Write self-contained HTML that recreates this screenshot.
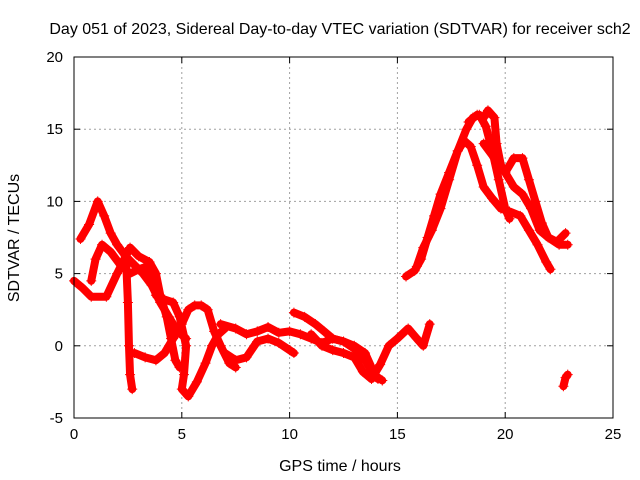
<!DOCTYPE html>
<html><head><meta charset="utf-8"><style>
html,body{margin:0;padding:0;background:#fff}
svg{display:block;font-family:"Liberation Sans",sans-serif}
</style></head><body>
<svg id="chart" width="640" height="480">
<text x="340" y="34" text-anchor="middle" font-size="16">Day 051 of 2023, Sidereal Day-to-day VTEC variation (SDTVAR) for receiver sch2</text>
<text x="340" y="471" text-anchor="middle" font-size="16">GPS time / hours</text>
<text transform="translate(19,238) rotate(-90)" text-anchor="middle" font-size="16">SDTVAR / TECUs</text>
<g id="grid"></g>
<g id="series"></g>
<rect x="74" y="57" width="539" height="361" fill="none" stroke="#000" stroke-width="1"/>
<g id="ticks"></g>
</svg>
<script>
const xTicks=[0,5,10,15,20,25];
const yTicks=[-5,0,5,10,15,20];
const track1=[[0.3,7.4],[0.7,8.4],[1.1,10.0],[1.4,9.0],[1.7,7.8],[2.0,7.0],[2.4,6.2],[2.8,5.6],[3.2,5.0],[3.6,4.2],[4.0,3.0],[4.4,2.0],[4.8,1.0],[5.2,0.5]];
const track2=[[0,4.5],[0.4,4.0],[0.8,3.4],[1.5,3.4],[2.0,5.0],[2.6,6.8],[3.0,6.2],[3.5,5.8],[3.8,5.0],[4.0,3.5],[4.3,2.0],[4.5,0.5],[4.7,-1.0],[4.9,-1.5]];
const track3=[[0.8,4.5],[1.0,6.0],[1.3,7.0],[1.7,6.5],[2.2,5.5],[2.6,5.0],[3.0,5.3],[3.4,5.5],[3.6,5.0],[3.8,3.5]];
const track4=[[2.8,-0.5],[3.3,-0.8],[3.8,-1.0],[4.2,-0.5],[4.6,0.5],[5.0,1.5],[5.3,2.5],[5.6,2.8],[5.9,2.8],[6.2,2.5],[6.5,1.0],[6.8,0.0],[7.2,-1.2],[7.5,-1.5]];
const track5=[[4.2,3.2],[4.6,3.0],[4.9,2.0],[5.2,0.0],[5.1,-2.0],[5.0,-3.0],[5.3,-3.5],[5.7,-2.5],[6.1,-1.2],[6.4,0.0],[6.7,0.8],[7.0,1.2]];
const track6=[[2.4,6.5],[2.5,3.0],[2.55,0],[2.6,-2.0],[2.7,-3.0]];
const track7=[[6.8,1.5],[7.5,1.2],[8.0,0.8],[8.5,1.0],[9.0,1.3],[9.5,0.9],[10.0,1.0],[10.5,0.8],[11.0,0.5],[11.5,0.2],[12.0,0.5],[12.5,0.3],[13.0,0.0],[13.5,-0.5],[13.8,-1.5],[14.1,-2.3]];
const track8=[[7.0,-0.5],[7.5,-1.0],[8.0,-0.8],[8.5,0.3],[9.0,0.5],[9.5,0.2],[10.0,-0.3],[10.2,-0.5]];
const track9=[[10.2,2.3],[10.7,2.0],[11.2,1.5],[11.6,1.0],[12.0,0.5],[12.5,0.3],[13.0,-0.2],[13.5,-1.0],[13.9,-2.0],[14.3,-2.4]];
const track10=[[11.0,0.8],[11.5,0.0],[12.0,-0.3],[12.5,-0.5],[13.0,-0.8],[13.4,-1.8],[13.8,-2.3],[14.2,-1.3],[14.6,0],[15.0,0.5],[15.5,1.2],[15.9,0.5],[16.2,0],[16.5,1.5]];
const track11=[[15.4,4.8],[15.8,5.2],[16.1,6.0],[16.4,7.5],[16.7,9.0],[17.0,10.5],[17.4,12.0],[17.8,13.5],[18.2,15.0],[18.5,15.8],[18.8,16.0],[19.1,15.2],[19.4,13.5],[19.7,11.5],[20.0,9.5],[20.2,8.8]];
const track12=[[15.9,5.5],[16.2,6.8],[16.6,8.0],[17.0,9.5],[17.4,11.5],[17.8,13.5],[18.1,14.2],[18.4,13.8],[18.7,12.5],[19.0,11.0],[19.4,10.2],[19.8,9.5],[20.2,9.3],[20.7,9.0],[21.1,8.0],[21.5,7.0],[21.9,5.8],[22.1,5.3]];
const track13=[[18.3,15.5],[18.7,16.0],[19.0,15.8],[19.2,16.3],[19.5,15.8],[19.6,14.0],[19.8,12.5],[20.0,12.0],[20.4,13.0],[20.8,13.0],[21.1,11.5],[21.4,10.0],[21.7,8.5],[22.0,7.5],[22.4,7.2],[22.8,7.8]];
const track14=[[19.0,14.0],[19.5,13.0],[20.0,12.0],[20.4,11.0],[20.8,10.5],[21.2,9.5],[21.6,8.0],[22.0,7.5],[22.5,7.0],[22.9,7.0]];
const track15=[[22.7,-2.8],[22.8,-2.2],[22.9,-2.0]];
const tracks=[track1,track2,track3,track4,track5,track6,track7,track8,track9,track10,track11,track12,track13,track14,track15];

const NS='http://www.w3.org/2000/svg';
const L=74,R=613,T=57,B=418,xMin=0,xMax=25,yMin=-5,yMax=20;
function xs(v){return L+(v-xMin)/(xMax-xMin)*(R-L);}
function ys(v){return B-(v-yMin)/(yMax-yMin)*(B-T);}
function mk(tag,attrs,parent){const e=document.createElementNS(NS,tag);for(const k in attrs)e.setAttribute(k,attrs[k]);parent.appendChild(e);return e;}
const grid=document.getElementById('grid'),ticks=document.getElementById('ticks'),series=document.getElementById('series');
xTicks.forEach(t=>{
  const x=xs(t);
  if(t>xMin&&t<xMax){const g=mk('line',{x1:x,x2:x,y1:T,y2:B,stroke:'#a0a0a0','stroke-dasharray':'2,3'},grid);
  
  }
  const a=mk('line',{x1:x,x2:x,y1:B,y2:B-6,stroke:'#000'},ticks);
  
  
  const b=mk('line',{x1:x,x2:x,y1:T,y2:T+6,stroke:'#000'},ticks);
  
  
  const tx=mk('text',{x:x,y:B+21,'text-anchor':'middle','font-size':'15'},ticks);tx.textContent=t;
  
  
});
yTicks.forEach(t=>{
  const y=ys(t);
  if(t>yMin&&t<yMax){const g=mk('line',{x1:L,x2:R,y1:y,y2:y,stroke:'#a0a0a0','stroke-dasharray':'2,3'},grid);
  
  }
  const a=mk('line',{x1:L,x2:L+6,y1:y,y2:y,stroke:'#000'},ticks);
  
  
  const b=mk('line',{x1:R,x2:R-6,y1:y,y2:y,stroke:'#000'},ticks);
  
  
  const tx=mk('text',{x:L-11,y:y+5,'text-anchor':'end','font-size':'15'},ticks);tx.textContent=t;
  
  
});
tracks.forEach((tr,i)=>{
  const pts=tr.map(p=>xs(p[0])+','+ys(p[1])).join(' ');
  const pl=mk('polyline',{points:pts,fill:'none',stroke:'#ff0000','stroke-width':'8','stroke-linejoin':'round','stroke-linecap':'round'},series);
  
  
  tr.forEach(p=>{
    const x=xs(p[0]),y=ys(p[1]);
    const m=mk('path',{d:`M${x-5},${y}H${x+5}M${x},${y-5}V${y+5}`,stroke:'#ff0000','stroke-width':'1'},series);
    
    
  });
});
</script>
</body></html>
